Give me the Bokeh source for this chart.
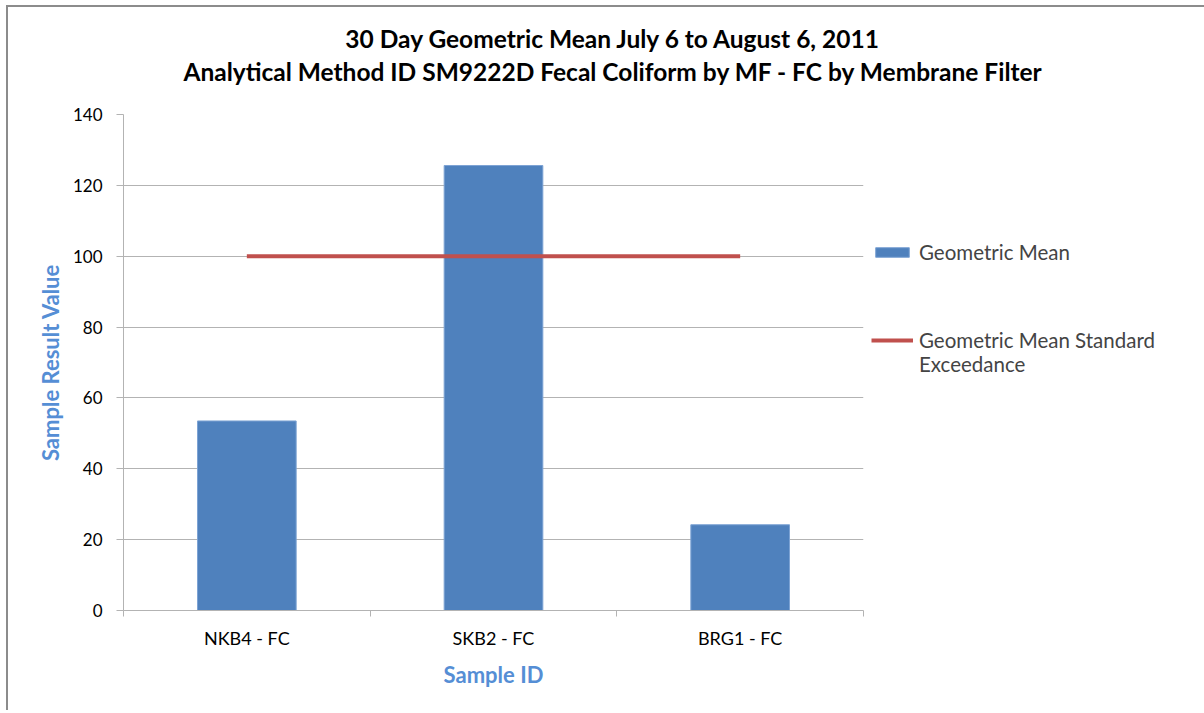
from bokeh.plotting import figure
from bokeh.models import (ColumnDataSource, Legend, LegendItem, LinearAxis,
                          Range1d, FixedTicker, Label)
from bokeh.embed import file_html
from bokeh.resources import INLINE

categories = ["NKB4 - FC", "SKB2 - FC", "BRG1 - FC"]
geo_mean = [53.5, 125.6, 24.2]
standard = [100, 100, 100]
y_ticks = [0, 20, 40, 60, 80, 100, 120, 140]

title_lines = ["30 Day Geometric Mean July 6 to August 6, 2011",
               "Analytical Method ID SM9222D Fecal Coliform by MF - FC by Membrane Filter"]

FONT = "Lato"
BLUE = "#4f81bd"
RED = "#c0504d"
AXIS_TITLE = "#558ed5"
GRID = "#b3b3b3"
FRAME_GRAY = "#8c8c8c"

n = len(categories)
centers = [i + 0.5 for i in range(n)]
src = ColumnDataSource(dict(x=centers, cat=categories, val=geo_mean, std=standard))

p = figure(x_range=Range1d(0, n), y_range=Range1d(0, 140),
           width=1200, height=710, frame_width=740, frame_height=496,
           min_border_left=123, min_border_right=337, min_border_top=114, min_border_bottom=100,
           output_backend="svg", toolbar_location=None, tools="", x_axis_type=None,
           title_location=None)
p.border_fill_alpha = 0
p.styles = {"background":
            f"linear-gradient({FRAME_GRAY},{FRAME_GRAY}) 6px 5px / 2px 100% no-repeat,"
            f"linear-gradient({FRAME_GRAY},{FRAME_GRAY}) 6px 5px / 100% 2px no-repeat, white"}
p.outline_line_color = None
p.background_fill_color = "white"

bars = p.vbar(x="x", top="val", width=0.4, source=src, fill_color=BLUE, line_color="#7da3d4", line_width=1)
line = p.line(x="x", y="std", source=src, line_color=RED, line_width=4)

# y axis
p.yaxis.ticker = FixedTicker(ticks=y_ticks)
p.yaxis.axis_line_color = GRID
p.yaxis.major_tick_line_color = GRID
p.yaxis.major_tick_out = 7
p.yaxis.major_tick_in = 0
p.yaxis.minor_tick_line_color = None
p.yaxis.major_label_text_font = FONT
p.yaxis.major_label_text_font_size = "17px"
p.yaxis.major_label_text_color = "black"
p.yaxis.major_label_standoff = 14
p.yaxis.axis_label = "Sample Result Value"
p.yaxis.axis_label_text_font = FONT
p.yaxis.axis_label_text_font_style = "bold"
p.yaxis.axis_label_text_font_size = "22px"
p.yaxis.axis_label_text_color = AXIS_TITLE
p.yaxis.axis_label_standoff = 6
p.ygrid.grid_line_color = GRID
p.ygrid.grid_line_width = 1

# x axis: labels at category centres, tick marks at category boundaries
lx = LinearAxis(ticker=FixedTicker(ticks=centers, minor_ticks=list(range(n + 1))),
                major_label_overrides={c: lab for c, lab in zip(centers, categories)},
                major_tick_line_color=None,
                minor_tick_line_color=GRID, minor_tick_out=6, minor_tick_in=0,
                axis_line_color=GRID,
                major_label_text_font=FONT, major_label_text_font_size="18px",
                major_label_text_color="black", major_label_standoff=10,
                axis_label="Sample ID", axis_label_text_font=FONT,
                axis_label_text_font_style="bold", axis_label_text_font_size="22px",
                axis_label_text_color=AXIS_TITLE, axis_label_standoff=9)
p.add_layout(lx, "below")

# two-line chart title
p.add_layout(Label(x=490, y=59.5, x_units="screen", y_units="screen",
                   text="\n".join(title_lines), text_align="center", text_baseline="middle",
                   text_line_height=1.13, text_font=FONT, text_font_style="bold",
                   text_font_size="24.5px", text_color="black"), "above")

# legend
legend = Legend(items=[LegendItem(label="Geometric Mean", renderers=[bars]),
                       LegendItem(label="\nGeometric Mean Standard\nExceedance", renderers=[line])],
                location=(8, 234), border_line_color=None, background_fill_alpha=0,
                glyph_width=42, glyph_height=12, label_text_font=FONT,
                label_text_font_size="20.5px", label_height=20, label_text_line_height=1.27,
                padding=0, margin=0, spacing=40, label_standoff=6)
p.add_layout(legend, "right")

open("out.html", "w").write(file_html(p, INLINE))
